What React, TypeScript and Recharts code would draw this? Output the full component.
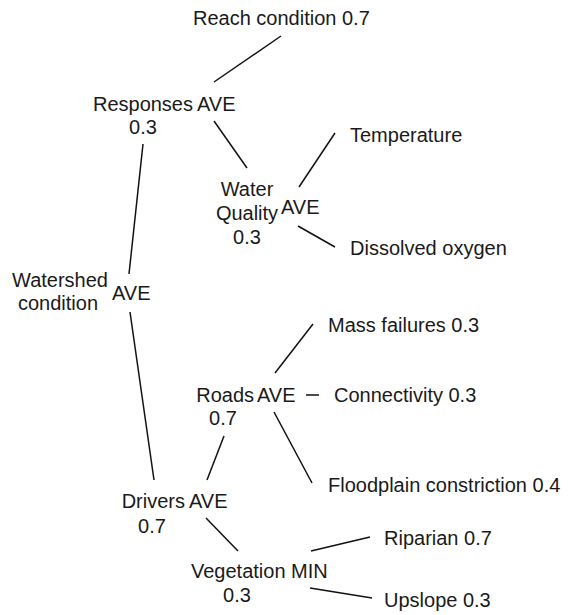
import React from 'react';
import { ScatterChart, Scatter, XAxis, YAxis, ReferenceLine } from 'recharts';

// Decision-tree node texts (names, operators, weights)
const labelTexts = [
  'Reach condition 0.7',
  'Responses', 'AVE', '0.3',
  'Temperature',
  'Water', 'Quality', 'AVE', '0.3',
  'Dissolved oxygen',
  'Watershed', 'condition', 'AVE',
  'Mass failures 0.3',
  'Roads', 'AVE', '0.7',
  'Connectivity 0.3',
  'Floodplain constriction 0.4',
  'Drivers', 'AVE', '0.7',
  'Riparian 0.7',
  'Vegetation', 'MIN', '0.3',
  'Upslope 0.3',
];
// Layout coordinates of each text (diagram units)
const labelX = [
  193,
  193, 197, 143,
  350,
  247, 247, 281, 247,
  350,
  60, 58, 112,
  328,
  254, 257, 223,
  334,
  328,
  185, 189, 152,
  384,
  191, 291, 237,
  384,
];
const labelY = [
  18,
  104, 104, 127,
  135,
  189, 213, 207, 237,
  248,
  280, 303, 293,
  325,
  395, 395, 418,
  395,
  485,
  501, 501, 526,
  538,
  571, 571, 595,
  600,
];
const labelAnchor = [
  'start',
  'end', 'start', 'middle',
  'start',
  'middle', 'middle', 'start', 'middle',
  'start',
  'middle', 'middle', 'start',
  'start',
  'end', 'start', 'middle',
  'start',
  'start',
  'end', 'start', 'middle',
  'start',
  'start', 'start', 'middle',
  'start',
];

// Tree edges: [x1, y1, x2, y2]
const edgeStart = [
  [281, 36], [214, 121], [143, 144], [299, 187], [298, 226], [130, 312],
  [275, 373], [306, 395], [274, 412], [224, 436], [206, 518], [311, 551], [310, 588],
];
const edgeEnd = [
  [214, 82], [247, 168], [129, 274], [335, 133], [335, 247], [154, 480],
  [313, 324], [319, 395], [312, 483], [207, 480], [238, 551], [370, 537], [372, 598],
];

const labels = labelTexts.map((t, i) => ({ x: labelX[i], y: labelY[i], text: t, anchor: labelAnchor[i] }));

const FONT = '"Liberation Sans", Arial, Helvetica, sans-serif';

const LabelShape = (props: any) => {
  const { cx, cy, payload } = props;
  return (
    <text
      x={cx}
      y={cy}
      textAnchor={payload.anchor}
      dominantBaseline="central"
      fontFamily={FONT}
      fontSize={20}
      fill="#1a1a1a"
    >
      {payload.text}
    </text>
  );
};

export default function App() {
  return (
    <div style={{ width: 571, height: 615, background: '#fff' }}>
      <style>{'body{margin:0;background:#fff;}'}</style>
      <ScatterChart width={571} height={615} margin={{ top: 0, right: 0, bottom: 0, left: 0 }}>
        <XAxis type="number" dataKey="x" domain={[0, 571]} hide allowDataOverflow />
        <YAxis type="number" dataKey="y" domain={[0, 615]} reversed hide allowDataOverflow />
        {edgeStart.map((s, i) => (
          <ReferenceLine
            key={i}
            segment={[{ x: s[0], y: s[1] }, { x: edgeEnd[i][0], y: edgeEnd[i][1] }]}
            stroke="#111"
            strokeWidth={1.5}
            ifOverflow="visible"
          />
        ))}
        <Scatter data={labels} shape={LabelShape} isAnimationActive={false} />
      </ScatterChart>
    </div>
  );
}
